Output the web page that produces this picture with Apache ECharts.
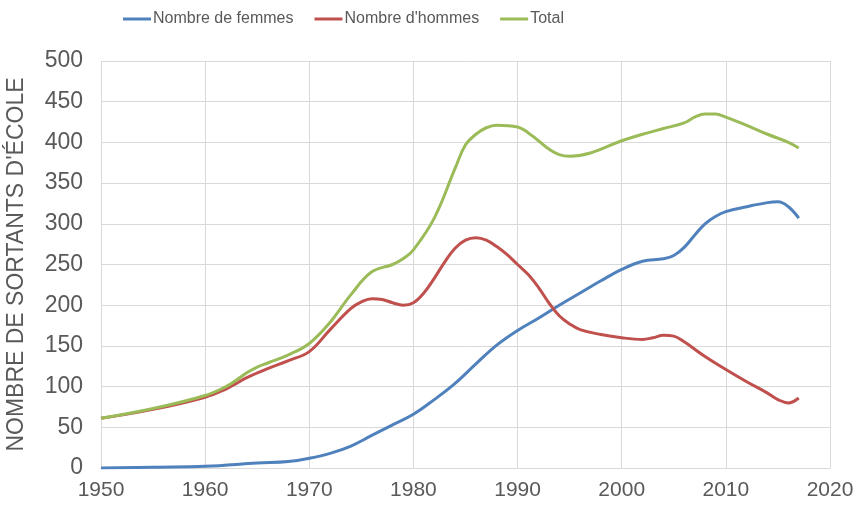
<!DOCTYPE html>
<html>
<head>
<meta charset="utf-8">
<script src="https://cdn.jsdelivr.net/npm/echarts@6/dist/echarts.min.js"></script>
<style>
  html, body { margin: 0; padding: 0; background: #fff; }
  #chart { width: 857px; height: 509px; }
</style>
</head>
<body>
<div id="chart"></div>
<script>
const seriesNames = ['Nombre de femmes', "Nombre d'hommes", 'Total'];
const colors = ['#4f81bd', '#c0504d', '#9bbb59'];

// [année, valeur]
const femmes = [
  [1950, 0], [1955, 1], [1960, 2], [1965, 6], [1968, 8], [1970, 12], [1972, 18],
  [1974, 27], [1976, 40], [1978, 53], [1980, 66], [1982, 84], [1984, 104],
  [1986, 128], [1988, 151], [1990, 169], [1992, 184], [1994, 200], [1996, 215],
  [1998, 230], [2000, 244], [2002, 254], [2004, 257], [2005, 261], [2006, 271],
  [2007, 286], [2008, 300], [2009, 309], [2010, 315], [2012, 321], [2014, 326],
  [2015, 327], [2016, 321], [2017, 307]
];
const hommes = [
  [1950, 61], [1955, 72], [1960, 87], [1962, 97], [1963, 104], [1964, 111], [1966, 122],
  [1968, 132], [1970, 143], [1972, 170], [1974, 196], [1975, 204], [1976, 208],
  [1977, 207], [1978, 203], [1979, 200], [1980, 203], [1981, 215], [1982, 233],
  [1983, 253], [1984, 270], [1985, 280], [1986, 283], [1987, 280], [1988, 272],
  [1989, 262], [1990, 250], [1991, 238], [1992, 222], [1993, 203], [1994, 187],
  [1995, 177], [1996, 170], [1998, 164], [2000, 160], [2002, 158], [2003, 160],
  [2004, 163], [2005, 162], [2006, 155], [2008, 137], [2010, 121], [2012, 106],
  [2014, 92], [2015, 84], [2016, 80], [2017, 86]
];
const total = [
  [1950, 61], [1955, 73], [1960, 89], [1962, 100], [1963, 108], [1964, 117],
  [1965, 124], [1966, 129], [1968, 139], [1970, 153], [1972, 179], [1974, 213],
  [1976, 241], [1978, 250], [1979, 257], [1980, 268], [1982, 307], [1984, 368],
  [1985, 397], [1986, 410], [1987, 418], [1988, 421], [1990, 419], [1991, 412],
  [1992, 402], [1993, 392], [1994, 385], [1995, 383], [1997, 387], [2000, 402],
  [2002, 410], [2004, 417], [2006, 424], [2007, 431], [2008, 435], [2009, 435],
  [2010, 431], [2012, 421], [2014, 410], [2016, 400], [2017, 393]
];
const seriesData = [femmes, hommes, total];

function gen_series() {
  var ret = [];
  for (var i in seriesData) {
    ret.push({
      name: seriesNames[i],
      type: 'line',
      smooth: 0.4,
      showSymbol: false,
      lineStyle: { color: colors[i], width: 3 },
      itemStyle: { color: colors[i] },
      data: seriesData[i]
    });
  }
  return ret;
}

const chart = echarts.init(document.getElementById('chart'));
chart.setOption({
  animation: false,
  textStyle: { fontFamily: 'Liberation Sans, Arial, sans-serif' },
  legend: {
    data: seriesNames,
    left: 118,
    top: 6,
    icon: 'rect',
    itemWidth: 28,
    itemHeight: 3,
    itemGap: 21,
    textStyle: { color: '#595959', fontSize: 16, padding: [0, 0, 0, -3] }
  },
  grid: { left: 101, right: 27, top: 61, bottom: 41, outerBoundsMode: 'none' },
  xAxis: {
    type: 'value',
    min: 1950,
    max: 2020,
    interval: 10,
    axisLine: { show: true, lineStyle: { color: '#d9d9d9' } },
    axisTick: { show: false },
    splitLine: { lineStyle: { color: '#d9d9d9', width: 1 } },
    axisLabel: {
      color: '#595959',
      fontSize: 21,
      margin: 12,
      formatter: function (v) { return String(v); }
    }
  },
  yAxis: {
    type: 'value',
    min: 0,
    max: 500,
    interval: 50,
    name: "NOMBRE DE SORTANTS D'ÉCOLE",
    nameLocation: 'middle',
    nameGap: 73,
    nameTextStyle: { color: '#595959', fontSize: 23 },
    axisLine: { show: false },
    axisTick: { show: false },
    splitLine: { lineStyle: { color: '#d9d9d9', width: 1 } },
    axisLabel: { color: '#595959', fontSize: 23, margin: 18 }
  },
  series: gen_series()
});
</script>
</body>
</html>
